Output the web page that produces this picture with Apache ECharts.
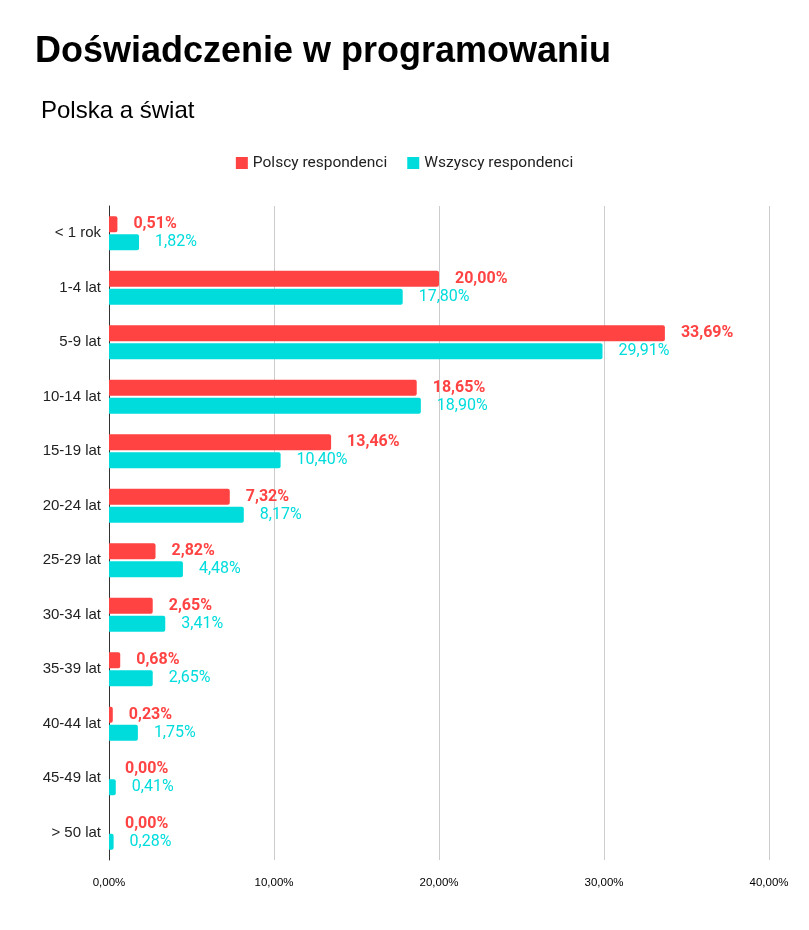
<!DOCTYPE html>
<html>
<head>
<meta charset="utf-8">
<script src="https://cdn.jsdelivr.net/npm/echarts@6/dist/echarts.min.js"></script>
<style>
  html, body { margin: 0; padding: 0; background: #fff; }
  #grafica { width: 809px; height: 930px; }
</style>
</head>
<body>
<div id="grafica"></div>
<script>
const kategorie = ["< 1 rok", "1-4 lat", "5-9 lat", "10-14 lat", "15-19 lat", "20-24 lat",
  "25-29 lat", "30-34 lat", "35-39 lat", "40-44 lat", "45-49 lat", "> 50 lat"];
const polscy = [0.51, 20.00, 33.69, 18.65, 13.46, 7.32, 2.82, 2.65, 0.68, 0.23, 0.00, 0.00];
const wszyscy = [1.82, 17.80, 29.91, 18.90, 10.40, 8.17, 4.48, 3.41, 2.65, 1.75, 0.41, 0.28];
const osX = [0, 10, 20, 30, 40];

const czerwony = "#ff4343";
const turkus = "#00dcdc";

const proc = (v) => v.toFixed(2).replace(".", ",") + "%";

let myChart = echarts.init(document.getElementById("grafica"));

myChart.setOption({
  animation: false,
  backgroundColor: "#fff",
  title: [
    {
      text: "Doświadczenie w programowaniu",
      left: 30, top: 29,
      textStyle: { fontFamily: "Liberation Sans", fontSize: 36, fontWeight: "bold", color: "#000" }
    },
    {
      text: "Polska a świat",
      left: 36, top: 94,
      textStyle: { fontFamily: "Liberation Sans", fontSize: 24, fontWeight: "normal", color: "#000" }
    }
  ],
  legend: {
    top: 150,
    left: "center",
    itemWidth: 12, itemHeight: 12, itemGap: 20,
    icon: "rect",
    textStyle: { fontFamily: "Roboto", fontSize: 15.5, color: "#222" },
    data: ["Polscy respondenci", "Wszyscy respondenci"]
  },
  grid: { left: 109, right: 40, top: 206, bottom: 70 },
  xAxis: {
    type: "value",
    min: osX[0], max: osX[osX.length - 1], interval: 10,
    axisLine: { show: false },
    axisTick: { show: false },
    splitLine: { lineStyle: { color: "#cccccc", width: 1 } },
    axisLabel: {
      fontFamily: "Liberation Sans", fontSize: 11.5, color: "#000", margin: 17,
      formatter: (v) => proc(v)
    }
  },
  yAxis: {
    type: "category",
    inverse: true,
    data: kategorie,
    axisLine: { show: true, lineStyle: { color: "#333", width: 1 } },
    axisTick: { show: false },
    axisLabel: { fontFamily: "Liberation Sans", fontSize: 15, color: "#222", margin: 8 }
  },
  series: [
    {
      name: "Polscy respondenci",
      type: "bar",
      data: polscy,
      barWidth: 16,
      barGap: "12%",
      itemStyle: { color: czerwony, borderRadius: [0, 2, 2, 0] },
      label: {
        show: true, position: "right", distance: 16,
        fontFamily: "Roboto", fontSize: 16, fontWeight: "bold", color: czerwony,
        formatter: (p) => proc(p.value)
      }
    },
    {
      name: "Wszyscy respondenci",
      type: "bar",
      data: wszyscy,
      barWidth: 16,
      barGap: "12%",
      itemStyle: { color: turkus, borderRadius: [0, 2, 2, 0] },
      label: {
        show: true, position: "right", distance: 16,
        fontFamily: "Roboto", fontSize: 16, color: turkus,
        formatter: (p) => proc(p.value)
      }
    }
  ]
});
</script>
</body>
</html>
